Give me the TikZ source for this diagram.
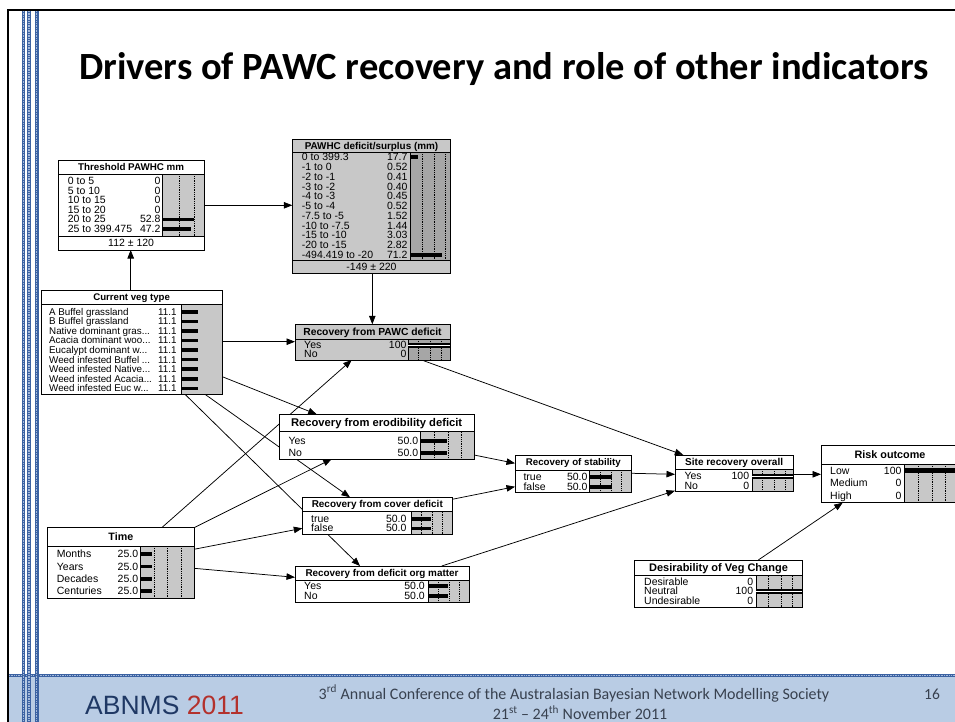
\documentclass[tikz,border=0pt]{standalone}
\usepackage{fontspec}
\setmainfont{Liberation Sans}
\newfontfamily\slidefont{Carlito}
\usetikzlibrary{arrows.meta,calc}

\pgfdeclarelayer{deco}
\pgfdeclarelayer{links}
\pgfsetlayers{deco,links,main}

\definecolor{boxgray}{HTML}{C8C8C8}
\definecolor{bargray}{HTML}{A6A6A6}
\definecolor{stripeblue}{HTML}{3B62A2}
\definecolor{stripelight}{HTML}{A4B9DB}
\definecolor{footband}{HTML}{B9CCE4}
\definecolor{navy}{HTML}{1F3864}
\definecolor{brick}{HTML}{B3312C}
\definecolor{foottext}{HTML}{38414F}

\newcommand\bnfs{10.5}

\tikzset{
  bnframe/.style={inner sep=0pt, outer sep=0pt, anchor=north west},
  bnrule/.style={draw=black, line width=0.8pt},
  bndots/.style={draw=black, line width=0.45pt, dash pattern=on 0.9pt off 0.9pt},
  bnbar/.style={fill=black},
  bnlabel/.style={inner sep=0pt, anchor=mid west, yshift=-0.8pt, font=\fontsize{\bnfs}{\bnfs}\selectfont},
  bnvalue/.style={inner sep=0pt, anchor=mid east, yshift=-0.8pt, font=\fontsize{\bnfs}{\bnfs}\selectfont},
  bnfoot/.style={inner sep=0pt, anchor=mid, yshift=-0.8pt, font=\fontsize{\bnfs}{\bnfs}\selectfont},
  bnlink/.style={draw=black, line width=0.75pt, -{Triangle[length=8.5pt,width=6.5pt]}},
  stripe/.style={line width=3.4pt, stripeblue},
  stripedots/.style={line width=1.1pt, stripelight, dash pattern=on 0.8pt off 0.9pt},
}

% filled body of a network node: name, left, top, right, bottom, fill
\newcommand\bnshell[6]{%
  \pgfmathsetmacro\bnw{#4-#2}\pgfmathsetmacro\bnh{#5-#3}%
  \node[bnframe, fill=#6, minimum width=\bnw pt, minimum height=\bnh pt] (#1) at (#2,#3) {};}
% outline of a network node
\newcommand\bnclose[1]{\draw[line width=0.9pt] (#1.north west) rectangle (#1.south east);}
% belief-bar panel: left, top, right, bottom, fill
\newcommand\bnpanel[5]{%
  \fill[#5] (#1,#2) rectangle (#3,#4);
  \draw[bnrule] (#1,#2) -- (#1,#4);}
% dotted guides in a panel: top, bottom, x list
\newcommand\bnguides[3]{\foreach \gx in {#3} {\draw[bndots] (\gx,#1) -- (\gx,#2);}}
% horizontal rule across a node: left, right, y
\newcommand\bnsep[3]{\draw[bnrule] (#1,#3) -- (#2,#3);}
% bold node title: name, x, y, size, text
\newcommand\bntitle[5]{\node[inner sep=0pt, anchor=mid, yshift=-0.8pt,
  font=\fontsize{#4}{#4}\bfseries\selectfont] (#1) at (#2,#3) {#5};}
% state row: name, y, label, value, bar length
\newcommand\bnrow[5]{%
  \fill[bnbar] (\bnbx,#2-1.8) rectangle ++(#5,3.6);
  \node[bnlabel] (#1l) at (\bnlx,#2) {#3};
  \node[bnvalue] (#1v) at (\bnvx,#2) {#4};}
% state row holding the whole belief (double bar)
\newcommand\bnfull[5]{%
  \fill[bnbar] (\bnbx,#2-2.6) rectangle ++(#5,5.2);
  \draw[white, line width=0.8pt] (\bnbx,#2) -- ++(#5,0);
  \node[bnlabel] (#1l) at (\bnlx,#2) {#3};
  \node[bnvalue] (#1v) at (\bnvx,#2) {#4};}

\begin{document}
\begin{tikzpicture}[x=1pt, y=-1pt]
\useasboundingbox (0,0) rectangle (955,722);

% ---------- slide template ----------
\begin{pgfonlayer}{deco}
  \fill[white] (0,0) rectangle (955,722);
  \fill[footband] (9,677) rectangle (955,722);
  \draw[line width=3pt, stripeblue] (9,675.8) -- (955,675.8);
  \draw[stripedots] (9,675.8) -- (955,675.8);
  \foreach \sx/\sw in {23.7/3.3, 29/3.3, 36.7/3.8} {
    \draw[stripeblue, line width=\sw pt] (\sx,11) -- (\sx,722);
    \draw[stripedots] (\sx,11) -- (\sx,722);
  }
  \draw[line width=2pt] (960,10) -- (8,10) -- (8,730);
\end{pgfonlayer}

\node[inner sep=0pt, anchor=base, font=\slidefont\fontsize{38.5}{40}\bfseries\selectfont]
  (title) at (504,80) {Drivers of PAWC recovery and role of other indicators};

% ---------- Threshold PAWHC mm ----------
\bnshell{thr}{58.3}{160.7}{204}{250}{white}
\bnpanel{162.3}{174.3}{204}{236}{boxgray}
\bnguides{174.3}{236}{179,194}
\def\bnlx{67.7}\def\bnvx{160.7}\def\bnbx{162.3}
\bnrow{thr1}{181.5}{0 to 5}{0}{0}
\bnrow{thr2}{191}{5 to 10}{0}{0}
\bnrow{thr3}{200.5}{10 to 15}{0}{0}
\bnrow{thr4}{210}{15 to 20}{0}{0}
\bnrow{thr5}{219.5}{20 to 25}{52.8}{32}
\bnrow{thr6}{229}{25 to 399.475}{47.2}{28.7}
\bnsep{58.3}{204}{174.3}
\bnsep{58.3}{204}{236}
\bntitle{thrT}{131.15}{167.5}{9.8}{Threshold PAWHC mm}
\node[bnfoot] (thrF) at (131.15,243) {112 ± 120};
\bnclose{thr}

% ---------- PAWHC deficit/surplus ----------
\bnshell{pawd}{292.3}{139}{450.7}{273.3}{boxgray}
\bnpanel{410}{152.3}{450.7}{260}{bargray}
\bnguides{152.3}{260}{422.7,434,445.3}
\def\bnlx{301.7}\def\bnvx{407.7}\def\bnbx{410}
\bnrow{pawd1}{157.3}{0 to 399.3}{17.7}{7.9}
\bnrow{pawd2}{167.1}{-1 to 0}{0.52}{0.25}
\bnrow{pawd3}{176.8}{-2 to -1}{0.41}{0.2}
\bnrow{pawd4}{186.6}{-3 to -2}{0.40}{0.2}
\bnrow{pawd5}{196.4}{-4 to -3}{0.45}{0.2}
\bnrow{pawd6}{206.2}{-5 to -4}{0.52}{0.25}
\bnrow{pawd7}{215.9}{-7.5 to -5}{1.52}{0.7}
\bnrow{pawd8}{225.7}{-10 to -7.5}{1.44}{0.65}
\bnrow{pawd9}{235.5}{-15 to -10}{3.03}{1.35}
\bnrow{pawd10}{245.2}{-20 to -15}{2.82}{1.25}
\bnrow{pawd11}{255}{-494.419 to -20}{71.2}{31.7}
\bnsep{292.3}{450.7}{152.3}
\bnsep{292.3}{450.7}{260}
\bntitle{pawdT}{371.5}{145.7}{9.9}{PAWHC deficit/surplus (mm)}
\node[bnfoot] (pawdF) at (371.5,266.7) {-149 ± 220};
\bnclose{pawd}

% ---------- Current veg type ----------
\bnshell{cv}{41}{290}{222.3}{394.3}{white}
\bnpanel{181.7}{304.3}{222.3}{394.3}{boxgray}
\def\bnlx{49}\def\bnvx{176.7}\def\bnbx{181.7}\renewcommand\bnfs{9.8}
\bnrow{cv1}{311.7}{A Buffel grassland}{11.1}{16.6}
\bnrow{cv2}{321.3}{B Buffel grassland}{11.1}{16.6}
\bnrow{cv3}{330.9}{Native dominant gras...}{11.1}{16.6}
\bnrow{cv4}{340.4}{Acacia dominant woo...}{11.1}{16.6}
\bnrow{cv5}{350}{Eucalypt dominant w...}{11.1}{16.6}
\bnrow{cv6}{359.6}{Weed infested Buffel ...}{11.1}{16.6}
\bnrow{cv7}{369.2}{Weed infested Native...}{11.1}{16.6}
\bnrow{cv8}{378.8}{Weed infested Acacia...}{11.1}{16.6}
\bnrow{cv9}{388.3}{Weed infested Euc w...}{11.1}{16.6}
\bnsep{41}{222.3}{304.3}
\bntitle{cvT}{131.65}{297.2}{9.65}{Current veg type}
\bnclose{cv}
\renewcommand\bnfs{10.5}

% ---------- Recovery from PAWC deficit ----------
\bnshell{pawc}{295}{324.3}{450}{360}{boxgray}
\bnpanel{408.3}{339}{450}{360}{bargray}
\bnguides{339}{360}{418.3,430,441.7}
\def\bnlx{304}\def\bnvx{406.7}\def\bnbx{408.3}
\bnfull{pawc1}{345.3}{Yes}{100}{41.7}
\bnrow{pawc2}{354.3}{No}{0}{0}
\bnsep{295}{450}{339}
\bntitle{pawcT}{372.5}{331.7}{10.3}{Recovery from PAWC deficit}
\bnclose{pawc}

% ---------- Recovery from erodibility deficit ----------
\bnshell{erod}{279.3}{414.3}{474}{459}{white}
\bnpanel{420.7}{431.7}{474}{459}{boxgray}
\bnguides{431.7}{459}{434.3,448.3,461.7}
\def\bnlx{288.3}\def\bnvx{418.3}\def\bnbx{420.7}
\bnrow{erod1}{441}{Yes}{50.0}{26}
\bnrow{erod2}{452.7}{No}{50.0}{26}
\bnsep{279.3}{474}{431.7}
\bntitle{erodT}{376.65}{423}{11.2}{Recovery from erodibility deficit}
\bnclose{erod}

% ---------- Recovery of stability ----------
\bnshell{stab}{515}{455}{631.7}{492.3}{white}
\bnpanel{589.3}{470}{631.7}{492.3}{boxgray}
\bnguides{470}{492.3}{600,611.7,621.7}
\def\bnlx{523.3}\def\bnvx{587.7}\def\bnbx{589.3}
\bnrow{stab1}{476.7}{true}{50.0}{22.4}
\bnrow{stab2}{486.7}{false}{50.0}{22.4}
\bnsep{515}{631.7}{470}
\bntitle{stabT}{573.35}{462.5}{9.7}{Recovery of stability}
\bnclose{stab}

% ---------- Recovery from cover deficit ----------
\bnshell{cover}{302.3}{497.3}{452.3}{534.3}{white}
\bnpanel{411.7}{511.7}{452.3}{534.3}{boxgray}
\bnguides{511.7}{534.3}{421.7,432.3,442.7}
\def\bnlx{311}\def\bnvx{406.7}\def\bnbx{411.7}
\bnrow{cover1}{519}{true}{50.0}{19.3}
\bnrow{cover2}{528.3}{false}{50.0}{19.3}
\bnsep{302.3}{452.3}{511.7}
\bntitle{coverT}{377.3}{504.5}{9.95}{Recovery from cover deficit}
\bnclose{cover}

% ---------- Recovery from deficit org matter ----------
\bnshell{org}{295}{566}{469}{602.7}{white}
\bnpanel{428.3}{580}{469}{602.7}{boxgray}
\bnguides{580}{602.7}{438.3,449,459.3}
\def\bnlx{304}\def\bnvx{425}\def\bnbx{428.3}
\bnrow{org1}{585.7}{Yes}{50.0}{19.4}
\bnrow{org2}{595.7}{No}{50.0}{19.4}
\bnsep{295}{469}{580}
\bntitle{orgT}{382}{573}{9.9}{Recovery from deficit org matter}
\bnclose{org}

% ---------- Time ----------
\bnshell{time}{47.7}{527.7}{194}{598.3}{white}
\bnpanel{140}{546}{194}{598.3}{boxgray}
\bnguides{546}{598.3}{154,167.7,181.7}
\def\bnlx{56.7}\def\bnvx{138.3}\def\bnbx{140}
\bnrow{time1}{554}{Months}{25.0}{11.7}
\bnrow{time2}{566.6}{Years}{25.0}{11.7}
\bnrow{time3}{578.9}{Decades}{25.0}{11.7}
\bnrow{time4}{591.2}{Centuries}{25.0}{11.7}
\bnsep{47.7}{194}{546}
\bntitle{timeT}{120.85}{537}{10.7}{Time}
\bnclose{time}

% ---------- Site recovery overall ----------
\bnshell{site}{675}{455}{793.3}{491.7}{white}
\bnpanel{752.3}{469.3}{793.3}{491.7}{boxgray}
\bnguides{469.3}{491.7}{762.7,774,785}
\def\bnlx{684.3}\def\bnvx{749.3}\def\bnbx{752.3}
\bnfull{site1}{476.5}{Yes}{100}{41}
\bnrow{site2}{486}{No}{0}{0}
\bnsep{675}{793.3}{469.3}
\bntitle{siteT}{734.15}{462.3}{10}{Site recovery overall}
\bnclose{site}

% ---------- Risk outcome ----------
\bnshell{risk}{821}{445}{959}{502.7}{white}
\bnpanel{904.3}{464.3}{959}{502.7}{boxgray}
\bnguides{464.3}{502.7}{918.3,932.3,945.7}
\def\bnlx{830}\def\bnvx{901.7}\def\bnbx{904.3}
\fill[bnbar] (904.3,468.2) rectangle (959,473.2);
\node[bnlabel] (risk1l) at (830,470.7) {Low};
\node[bnvalue] (risk1v) at (901.7,470.7) {100};
\bnrow{risk2}{483.3}{Medium}{0}{0}
\bnrow{risk3}{496}{High}{0}{0}
\bnsep{821}{959}{464.3}
\bntitle{riskT}{890}{455}{10.8}{Risk outcome}
\bnclose{risk}

% ---------- Desirability of Veg Change ----------
\bnshell{desir}{634.3}{560}{802.7}{607.7}{white}
\bnpanel{756}{575.7}{802.7}{607.7}{boxgray}
\bnguides{575.7}{607.7}{768.3,781,792.7}
\def\bnlx{644}\def\bnvx{753.3}\def\bnbx{756}
\bnrow{desir1}{581.7}{Desirable}{0}{0}
\bnfull{desir2}{591.2}{Neutral}{100}{46.7}
\bnrow{desir3}{600.7}{Undesirable}{0}{0}
\bnsep{634.3}{802.7}{575.7}
\bntitle{desirT}{718.5}{568}{11}{Desirability of Veg Change}
\bnclose{desir}

% ---------- links between the variables ----------
\begin{pgfonlayer}{links}
  \draw[bnlink] ($(cv.north west)+(89.7,0)$) -- ($(thr.south west)+(72.4,0)$);
  \draw[bnlink] ($(thr.north east)+(0,44.6)$) -- ($(pawd.north west)+(0,66.3)$);
  \draw[bnlink] ($(pawd.south west)+(80,0)$) -- ($(pawc.north west)+(77.3,0)$);
  \draw[bnlink] ($(cv.north east)+(0,51.7)$) -- ($(pawc.north west)+(0,17.4)$);
  \draw[bnlink] ($(cv.north east)+(0,86.7)$) -- ($(erod.north west)+(37.4,0)$);
  \draw[bnlink] ($(cv.south west)+(164,0)$) -- ($(cover.north west)+(47.7,0)$);
  \draw[bnlink] ($(cv.south west)+(144,0)$) -- ($(org.north west)+(65,0)$);
  \draw[bnlink] ($(time.north west)+(114,0)$) -- ($(pawc.south west)+(56.7,0)$);
  \draw[bnlink] (time.north east) -- ($(erod.south west)+(52.4,0)$);
  \draw[bnlink] ($(time.north east)+(0,21.6)$) -- ($(cover.north west)+(0,31)$);
  \draw[bnlink] ($(time.north east)+(0,40.6)$) -- ($(org.north west)+(0,11.3)$);
  \draw[bnlink] ($(erod.north east)+(0,40.7)$) -- ($(stab.north west)+(0,8.3)$);
  \draw[bnlink] ($(cover.north east)+(0,2)$) -- ($(stab.north west)+(0,31.7)$);
  \draw[bnlink] ($(pawc.south west)+(126.7,0)$) -- ($(site.north west)+(8.3,0)$);
  \draw[bnlink] ($(stab.north east)+(0,18.3)$) -- ($(site.north west)+(0,19.3)$);
  \draw[bnlink] ($(org.north west)+(146.7,0)$) -- ($(site.south west)+(0,-1)$);
  \draw[bnlink] ($(site.north east)+(0,19.3)$) -- ($(risk.north west)+(0,29.3)$);
  \draw[bnlink] ($(desir.north west)+(124,0)$) -- ($(risk.south west)+(21.7,0)$);
\end{pgfonlayer}

% ---------- footer ----------
\node[inner sep=0pt, anchor=base west, font=\fontsize{26.5}{27}\selectfont]
  (conf) at (85,714) {\textcolor{navy}{ABNMS} \textcolor{brick}{2011}};
\node[inner sep=0pt, anchor=base, text=foottext, font=\slidefont\fontsize{16}{17}\selectfont]
  (confline1) at (574,699) {3\textsuperscript{rd} Annual Conference of the Australasian Bayesian Network Modelling Society};
\node[inner sep=0pt, anchor=base, text=foottext, font=\slidefont\fontsize{16}{17}\selectfont]
  (confline2) at (580,719.5) {21\textsuperscript{st} – 24\textsuperscript{th} November 2011};
\node[inner sep=0pt, anchor=base, text=foottext, font=\slidefont\fontsize{15.5}{16}\selectfont]
  (pageno) at (932,699) {16};
\end{tikzpicture}
\end{document}
